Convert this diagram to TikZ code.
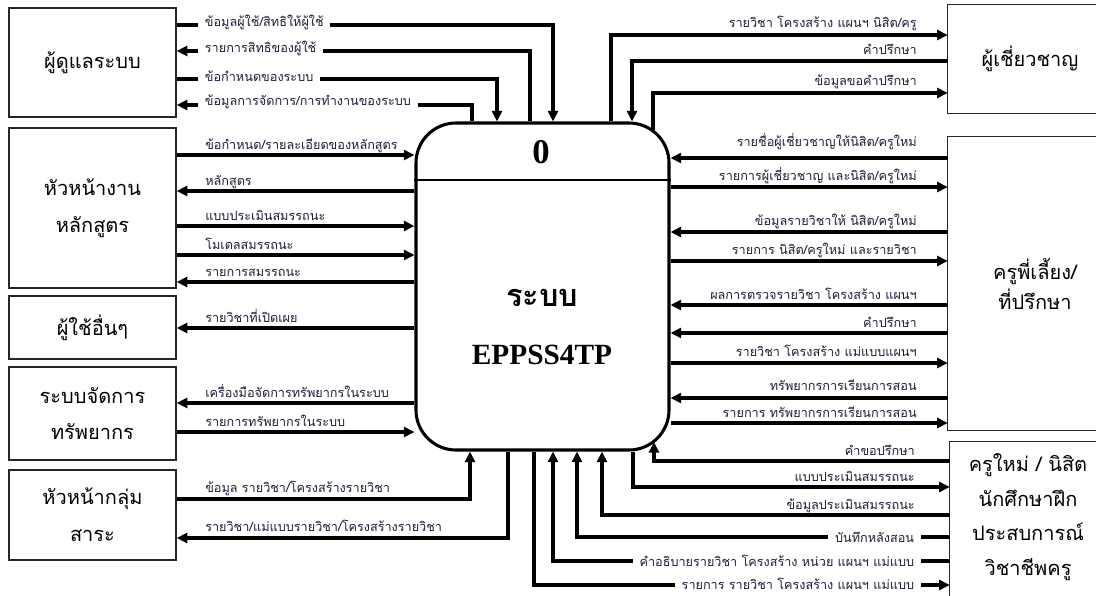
\documentclass[tikz,border=0pt]{standalone}
\usepackage{fontspec}
\setmainfont{Liberation Serif}
\newfontfamily\thai[Script=Thai]{Loma}
\usetikzlibrary{arrows.meta}
\definecolor{labc}{RGB}{30,30,60}
\begin{document}
\begin{tikzpicture}[x=0.75pt,y=-0.75pt,
  flow/.style={line width=2.5pt,-{Triangle[length=8pt,width=7.5pt]}},
  ent/.style={inner sep=0pt, font=\thai\fontsize{15}{27.5}\selectfont, text=black, align=center},
  bline/.style={line width=1pt, draw=black!85},
  lab/.style={font=\thai\fontsize{9.5}{11}\selectfont, text=labc, inner sep=0pt},
  cut/.style={lab, fill=white, inner xsep=5pt, inner ysep=3pt},
]
\useasboundingbox (0,0) rectangle (1096,596);
\fill[white] (0,0) rectangle (1096,596);

% central process
\node[draw, line width=2.3pt, rounded corners=30pt, minimum width=189.75pt, minimum height=245.25pt] (P) at (542.5,286.5) {};
\draw[line width=1pt] (P.west |- 0,180) -- (P.east |- 0,180);
\node[font=\fontsize{26}{28}\selectfont\bfseries] (zero) at (541,152) {0};
\node[font=\thai\fontsize{23}{25}\selectfont\bfseries] (sys1) at (542,298) {ระบบ};
\node[font=\fontsize{22}{24}\selectfont\bfseries] (sys2) at (542,355) {EPPSS4TP};

% left entities
\node[ent, draw, bline, minimum width=125.25pt, minimum height=81.75pt] (adm) at (92.5,62.5) {ผู้ดูแลระบบ};
\node[ent, draw, bline, minimum width=125.25pt, minimum height=120pt] (cur) at (92.5,208) {หัวหน้างาน\\หลักสูตร};
\node[ent, draw, bline, minimum width=125.25pt, minimum height=47.25pt] (oth) at (92.5,327.5) {ผู้ใช้อื่นๆ};
\node[ent, draw, bline, minimum width=125.25pt, minimum height=69.75pt] (res) at (92.5,413.5) {ระบบจัดการ\\ทรัพยากร};
\node[ent, draw, bline, minimum width=125.25pt, minimum height=67.5pt] (grp) at (92.5,515) {หัวหน้ากลุ่ม\\สาระ};

% right entities (open at page edge)
\node[ent, minimum width=123pt, minimum height=81pt] (exp) at (1030,59) {ผู้เชี่ยวชาญ};
\node[ent, font=\thai\fontsize{15}{22.5}\selectfont, minimum width=130.5pt, minimum height=219.75pt] (ment) at (1035,283.5) {ครูพี่เลี้ยง/\\ที่ปรึกษา};
\node[ent, font=\thai\fontsize{15}{26}\selectfont, minimum width=117pt, minimum height=112.5pt] (newb) at (1028,517) {ครูใหม่ / นิสิต\\นักศึกษาฝึก\\ประสบการณ์\\วิชาชีพครู};
\draw[bline] (exp.north west -| 1096,0) -- (exp.north west) -- (exp.south west) -- (exp.south west -| 1096,0);
\draw[bline] (ment.north west -| 1096,0) -- (ment.north west) -- (ment.south west) -- (ment.south west -| 1096,0);
\draw[bline] (newb.north west -| 1096,0) -- (newb.north west) -- (newb.north west |- 0,596);

% ---- flows: administrator
\draw[flow] (adm.east |- 0,25) -| (P.north -| 553,0);
\node[cut, anchor=west] (la1) at (198,22) {ข้อมูลผู้ใช้/สิทธิให้ผู้ใช้};
\draw[flow] (P.north -| 530,0) |- (adm.east |- 0,51);
\node[cut, anchor=west] (la2) at (198,48) {รายการสิทธิของผู้ใช้};
\draw[flow] (adm.east |- 0,79) -| (P.north -| 497,0);
\node[cut, anchor=west] (la3) at (198,76) {ข้อกำหนดของระบบ};
\draw[flow] (P.north -| 472,0) |- (adm.east |- 0,105);
\node[cut, anchor=west] (la4) at (198,102) {ข้อมูลการจัดการ/การทำงานของระบบ};

% ---- curriculum head
\draw[flow] (cur.east |- 0,155) -- (P.west |- 0,155);
\node[lab, anchor=base west] (lb1) at (205,149) {ข้อกำหนด/รายละเอียดของหลักสูตร};
\draw[flow] (P.west |- 0,191) -- (cur.east |- 0,191);
\node[lab, anchor=base west] (lb2) at (205,185) {หลักสูตร};
\draw[flow] (cur.east |- 0,226) -- (P.west |- 0,226);
\node[lab, anchor=base west] (lb3) at (205,220) {แบบประเมินสมรรถนะ};
\draw[flow] (cur.east |- 0,255) -- (P.west |- 0,255);
\node[lab, anchor=base west] (lb4) at (205,249) {โมเดลสมรรถนะ};
\draw[flow] (P.west |- 0,282) -- (cur.east |- 0,282);
\node[lab, anchor=base west] (lb5) at (205,276) {รายการสมรรถนะ};

% ---- other users, resources
\draw[flow] (P.west |- 0,328) -- (oth.east |- 0,328);
\node[lab, anchor=base west] (lc1) at (205,322) {รายวิชาที่เปิดเผย};
\draw[flow] (P.west |- 0,403) -- (res.east |- 0,403);
\node[lab, anchor=base west] (ld1) at (205,397) {เครื่องมือจัดการทรัพยากรในระบบ};
\draw[flow] (res.east |- 0,432) -- (P.west |- 0,432);
\node[lab, anchor=base west] (ld2) at (205,426) {รายการทรัพยากรในระบบ};

% ---- subject group head
\draw[flow] (grp.east |- 0,499) -| (P.south -| 470,0);
\node[lab, anchor=base west] (le1) at (205,492) {ข้อมูล รายวิชา/โครงสร้างรายวิชา};
\draw[flow] (P.south -| 508,0) |- (grp.east |- 0,538);
\node[lab, anchor=base west] (le2) at (205,531) {รายวิชา/แม่แบบรายวิชา/โครงสร้างรายวิชา};

% ---- expert
\coordinate (c1) at (653,130);
\draw[flow] (P.north -| 611,0) |- (exp.west |- 0,35);
\node[lab, anchor=base east] (lf1) at (917,27) {รายวิชา โครงสร้าง แผนฯ นิสิต/ครู};
\draw[flow] (exp.west |- 0,61) -| (P.north -| 632,0);
\node[lab, anchor=base east] (lf2) at (917,54) {คำปรึกษา};
\draw[flow] (c1) |- (exp.west |- 0,93);
\node[lab, anchor=base east] (lf3) at (917,85) {ข้อมูลขอคำปรึกษา};

% ---- mentor
\draw[flow] (ment.west |- 0,158) -- (P.east |- 0,158);
\node[lab, anchor=base east] (lg1) at (917,146) {รายชื่อผู้เชี่ยวชาญให้นิสิต/ครูใหม่};
\draw[flow] (P.east |- 0,187) -- (ment.west |- 0,187);
\node[lab, anchor=base east] (lg2) at (917,180) {รายการผู้เชี่ยวชาญ และนิสิต/ครูใหม่};
\draw[flow] (ment.west |- 0,232) -- (P.east |- 0,232);
\node[lab, anchor=base east] (lg3) at (917,225) {ข้อมูลรายวิชาให้ นิสิต/ครูใหม่};
\draw[flow] (P.east |- 0,261) -- (ment.west |- 0,261);
\node[lab, anchor=base east] (lg4) at (917,254) {รายการ นิสิต/ครูใหม่ และรายวิชา};
\draw[flow] (ment.west |- 0,305) -- (P.east |- 0,305);
\node[lab, anchor=base east] (lg5) at (917,299) {ผลการตรวจรายวิชา โครงสร้าง แผนฯ};
\draw[flow] (ment.west |- 0,333) -- (P.east |- 0,333);
\node[lab, anchor=base east] (lg6) at (917,327) {คำปรึกษา};
\draw[flow] (P.east |- 0,363) -- (ment.west |- 0,363);
\node[lab, anchor=base east] (lg7) at (917,356) {รายวิชา โครงสร้าง แม่แบบแผนฯ};
\draw[flow] (ment.west |- 0,398) -- (P.east |- 0,398);
\node[lab, anchor=base east] (lg8) at (917,390) {ทรัพยากรการเรียนการสอน};
\draw[flow] (P.east |- 0,423) -- (ment.west |- 0,423);
\node[lab, anchor=base east] (lg9) at (917,417) {รายการ ทรัพยากรการเรียนการสอน};

% ---- new teacher / student
\coordinate (c2) at (654,442);
\draw[flow] (newb.west |- 0,461) -| (c2);
\node[lab, anchor=base east] (lh1) at (915,455) {คำขอปรึกษา};
\draw[flow] (P.south -| 633,0) |- (newb.west |- 0,487);
\node[lab, anchor=base east] (lh2) at (915,481) {แบบประเมินสมรรถนะ};
\draw[flow] (newb.west |- 0,515) -| (P.south -| 602,0);
\node[lab, anchor=base east] (lh3) at (915,509) {ข้อมูลประเมินสมรรถนะ};
\draw[flow] (newb.west |- 0,537) -| (P.south -| 577,0);
\node[cut, anchor=east] (lh4) at (921,537) {บันทึกหลังสอน};
\draw[flow] (newb.west |- 0,561) -| (P.south -| 553,0);
\node[cut, anchor=east] (lh5) at (921,561) {คำอธิบายรายวิชา โครงสร้าง หน่วย แผนฯ แม่แบบ};
\draw[flow] (P.south -| 534,0) |- (newb.west |- 0,585);
\node[cut, anchor=east, inner ysep=1pt] (lh6) at (921,584) {รายการ รายวิชา โครงสร้าง แผนฯ แม่แบบ};
\end{tikzpicture}
\end{document}
